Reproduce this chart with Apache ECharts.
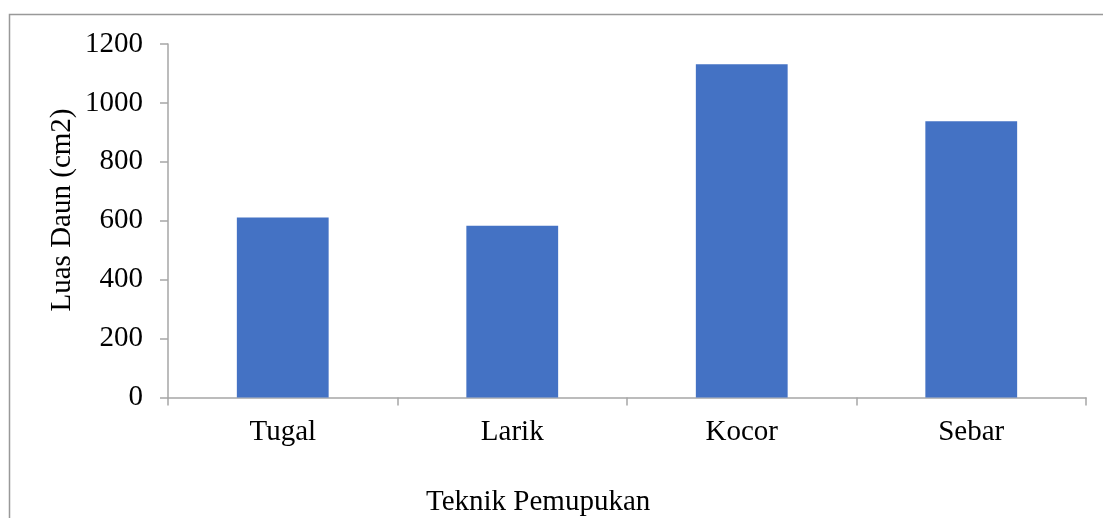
<!DOCTYPE html>
<html>
<head>
<meta charset="utf-8">
<script src="https://cdn.jsdelivr.net/npm/echarts@6/dist/echarts.min.js"></script>
<style>
html,body{margin:0;padding:0;background:#fff;}
#chart{width:1103px;height:518px;}
</style>
</head>
<body>
<div id="chart"></div>
<script>
const categories = ['Tugal', 'Larik', 'Kocor', 'Sebar'];
const luasDaun = [611, 583, 1131, 938];
const yTicks = { min: 0, max: 1200, interval: 200 };
const yTitle = 'Luas Daun (cm2)';
const xTitle = 'Teknik Pemupukan';

const font = '"Liberation Serif", "Times New Roman", serif';
const chart = echarts.init(document.getElementById('chart'), null, { renderer: 'canvas' });
chart.setOption({
  animation: false,
  backgroundColor: '#fff',
  graphic: [
    { type: 'rect', shape: { x: 9.5, y: 14.5, width: 1200, height: 600 },
      style: { fill: 'none', stroke: '#999', lineWidth: 1.5 }, silent: true },
    { type: 'text', left: 426, top: 488,
      style: { text: xTitle, font: '29px ' + font, fill: '#000' } },
    { type: 'text', x: 62, y: 210, rotation: Math.PI / 2,
      style: { text: yTitle, font: '29px ' + font, fill: '#000', align: 'center', verticalAlign: 'middle' } }
  ],
  grid: { left: 168, right: 17, top: 44, bottom: 120.5 },
  xAxis: {
    type: 'category',
    data: categories,
    boundaryGap: true,
    axisLine: { lineStyle: { color: '#a6a6a6', width: 1.5 } },
    axisTick: { show: true, length: 8, lineStyle: { color: '#a6a6a6', width: 1.5 } },
    axisLabel: { color: '#000', fontFamily: font, fontSize: 29, margin: 20 }
  },
  yAxis: {
    type: 'value',
    min: yTicks.min, max: yTicks.max, interval: yTicks.interval,
    axisLine: { show: true, lineStyle: { color: '#a6a6a6', width: 1.5 } },
    axisTick: { show: true, length: 8, lineStyle: { color: '#a6a6a6', width: 1.5 } },
    splitLine: { show: false },
    axisLabel: { color: '#000', fontFamily: font, fontSize: 29, margin: 25, formatter: v => String(v) }
  },
  series: [{
    type: 'bar',
    data: luasDaun,
    barWidth: '40%',
    itemStyle: { color: '#4472C4' }
  }]
});
</script>
</body>
</html>
